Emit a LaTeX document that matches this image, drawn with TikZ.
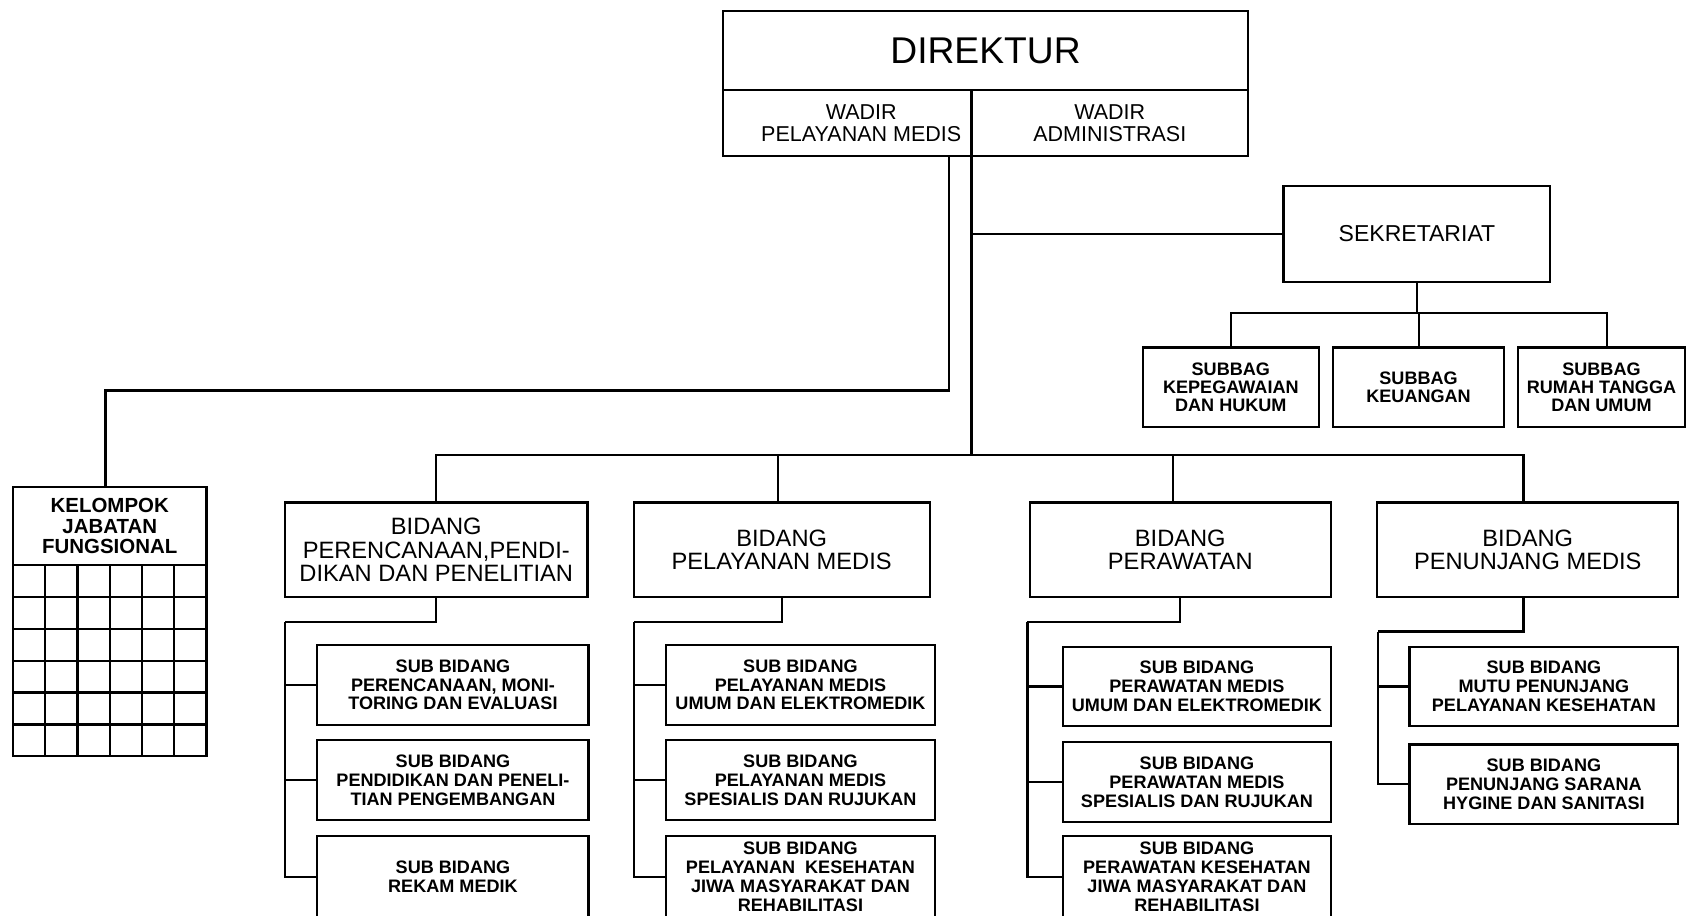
\documentclass[tikz,border=0pt]{standalone}
\usepackage{fontspec}
\setmainfont{Liberation Sans}
\usetikzlibrary{positioning}

\begin{document}
\begin{tikzpicture}[x=0.5pt, y=-0.5pt, line width=1pt,
    box/.style={draw, inner sep=0pt, outer sep=0pt, align=center},
    wadir/.style={box, font=\fontsize{10}{10}\selectfont, minimum height=30.5pt},
    bidang/.style={box, font=\fontsize{11}{11}\selectfont, minimum height=44pt},
    subbag/.style={box, font=\bfseries\fontsize{8.4}{8.3}\selectfont, minimum height=37pt},
    subbid/.style={box, font=\bfseries\fontsize{8.4}{8.8}\selectfont, minimum height=37pt}]
    \useasboundingbox (0,0) rectangle (1568,851);
    \def\wa{126pt}
    \def\wb{125pt}
    %% Direktur & Wadir
    \node[box, font=\fontsize{17.3}{18}\selectfont, minimum width=244pt, minimum height=37pt] (dir) at (916,47) {DIREKTUR};
    \node[wadir, minimum width=115.5pt] (wpm) at (787.5,114.5) {\hspace*{13pt}\raisebox{-1.5pt}[\height][\depth]{\begin{tabular}{@{}c@{}}WADIR\\PELAYANAN MEDIS\end{tabular}}};
    \node[wadir, minimum width=128.5pt] (wadm) at (1031.5,114.5) {WADIR\\ADMINISTRASI};
    %% Sekretariat
    \node[box, font=\fontsize{10.7}{11}\selectfont, minimum width=124pt, minimum height=44.5pt] (sek) at (1317,217.5) {SEKRETARIAT};
    \node[subbag, minimum width=82pt] (sb1) at (1144,360) {SUBBAG\\KEPEGAWAIAN\\DAN HUKUM};
    \node[subbag, minimum width=79.5pt] (sb2) at (1318.5,360) {SUBBAG\\KEUANGAN};
    \node[subbag, minimum width=77.5pt] (sb3) at (1488.5,360) {SUBBAG\\RUMAH TANGGA\\DAN UMUM};
    %% Kelompok jabatan fungsional
    \node[box, font=\bfseries\fontsize{9.5}{9.5}\selectfont, minimum width=90pt, minimum height=36pt] (kjf) at (102,489) {KELOMPOK\\JABATAN\\FUNGSIONAL};
    \draw (kjf.south west) rectangle (192,703);
    \foreach \c in {42,72,102,132,162}
        \draw (\c,525) -- (\c,703);
    \foreach \r in {1,...,5}
        \draw (12,{525+29.67*\r}) -- (192,{525+29.67*\r});
    %% Bidang
    \node[bidang, minimum width=140.5pt] (b1) at (405.5,511) {BIDANG\\PERENCANAAN,PENDI-\\DIKAN DAN PENELITIAN};
    \node[bidang, minimum width=137.5pt] (b2) at (726.5,511) {BIDANG\\PELAYANAN MEDIS};
    \node[bidang, minimum width=140pt] (b3) at (1097,511) {BIDANG\\PERAWATAN};
    \node[bidang, minimum width=140pt] (b4) at (1420,511) {BIDANG\\PENUNJANG MEDIS};
    %% Sub bidang
    \node[subbid, minimum width=\wa] (s11) at (421,636.5) {SUB BIDANG\\PERENCANAAN, MONI-\\TORING DAN EVALUASI};
    \node[subbid, minimum width=\wa] (s12) at (421,725) {SUB BIDANG\\PENDIDIKAN DAN PENELI-\\TIAN PENGEMBANGAN};
    \node[subbid, minimum width=\wa, minimum height=38pt] (s13) at (421,815) {SUB BIDANG\\REKAM MEDIK};
    \node[subbid, minimum width=\wb] (s21) at (744,636.5) {SUB BIDANG\\PELAYANAN MEDIS\\UMUM DAN ELEKTROMEDIK};
    \node[subbid, minimum width=\wb] (s22) at (744,725) {SUB BIDANG\\PELAYANAN MEDIS\\SPESIALIS DAN RUJUKAN};
    \node[subbid, minimum width=\wb, minimum height=38pt] (s23) at (744,815) {SUB BIDANG\\PELAYANAN\ \ KESEHATAN\\JIWA MASYARAKAT DAN\\REHABILITASI};
    \node[subbid, minimum width=124.5pt] (s31) at (1112.5,638) {SUB BIDANG\\PERAWATAN MEDIS\\UMUM DAN ELEKTROMEDIK};
    \node[subbid, minimum width=124.5pt] (s32) at (1112.5,727) {SUB BIDANG\\PERAWATAN MEDIS\\SPESIALIS DAN RUJUKAN};
    \node[subbid, minimum width=124.5pt, minimum height=38pt] (s33) at (1112.5,815) {SUB BIDANG\\PERAWATAN KESEHATAN\\JIWA MASYARAKAT DAN\\REHABILITASI};
    \node[subbid, minimum width=\wb] (s41) at (1435,638) {SUB BIDANG\\MUTU PENUNJANG\\PELAYANAN KESEHATAN};
    \node[subbid, minimum width=\wb] (s42) at (1435,729) {SUB BIDANG\\PENUNJANG SARANA\\HYGINE DAN SANITASI};
    %% Lines top
    \path (wpm.south east) ++(-21,0) coordinate (k0);
    \draw (k0) -- ++(0,218) -| ([xshift=-2pt]kjf.north);
    \path (wadm.south west) ++(0,278) coordinate (bus);
    \draw (wadm.south west) -- (bus);
    \draw (b1.north) |- (bus) -| ([xshift=-2pt]b4.north);
    \draw ([xshift=-1.75pt]b2.north |- bus) -- ([xshift=-1.75pt]b2.north);
    \draw ([xshift=-3.5pt]b3.north |- bus) -- ([xshift=-3.5pt]b3.north);
    \draw (wadm.south west |- sek.west) -- (sek.west);
    \draw (sek.south) -- ++(0,29) coordinate (sbus);
    \draw (sb1.north) |- (sbus) -| ([xshift=2.5pt]sb3.north);
    \draw (sb2.north |- sbus) -- (sb2.north);
    %% Lines to sub bidang
    \draw (b1.south) -- ++(0,23) -- ++(-140.5,0) coordinate (g1);
    \draw (g1) |- (s13.west);
    \draw (g1 |- s11.west) -- (s11.west);
    \draw (g1 |- s12.west) -- (s12.west);
    \draw (b2.south) -- ++(0,23) -- ++(-137.5,0) coordinate (g2);
    \draw (g2) |- (s23.west);
    \draw (g2 |- s21.west) -- (s21.west);
    \draw (g2 |- s22.west) -- (s22.west);
    \draw (b3.south) -- ++(0,23) -- ++(-142,0) coordinate (g3);
    \draw (g3) |- (s33.west);
    \draw (g3 |- s31.west) -- (s31.west);
    \draw (g3 |- s32.west) -- (s32.west);
    \draw ([xshift=-2pt]b4.south) -- ++(0,32) -- ++(-135,0) coordinate (g4);
    \draw (g4) |- (s42.west);
    \draw (g4 |- s41.west) -- (s41.west);
\end{tikzpicture}
\end{document}
